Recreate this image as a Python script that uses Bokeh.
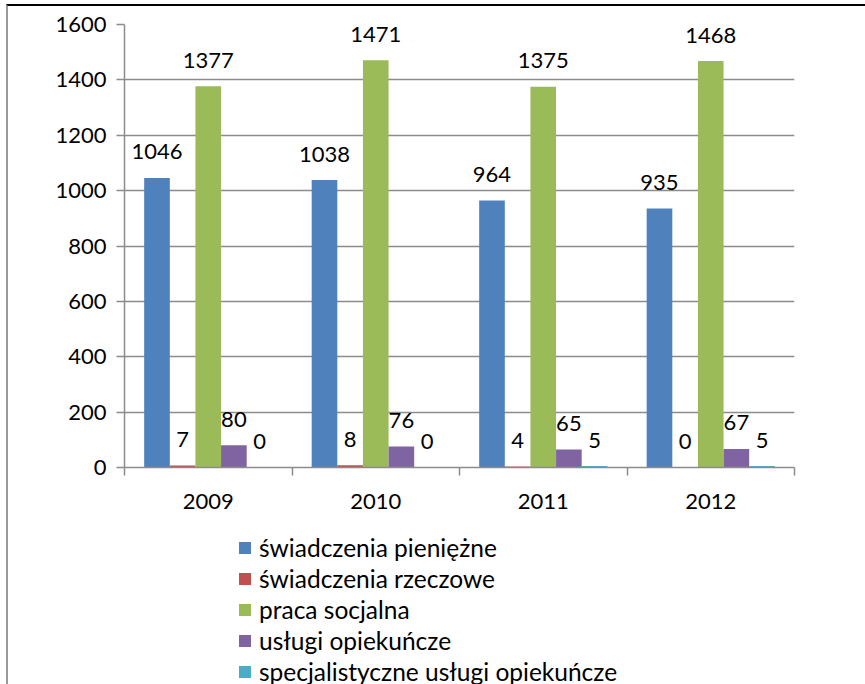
from bokeh.plotting import figure
from bokeh.layouts import column
from bokeh.models import (Range1d, FixedTicker, Legend, LegendItem, ColumnDataSource)
from bokeh.core.properties import value
from bokeh.embed import file_html
from bokeh.resources import INLINE

years = ["2009", "2010", "2011", "2012"]
series_names = [
    "świadczenia pieniężne",
    "świadczenia rzeczowe",
    "praca socjalna",
    "usługi opiekuńcze",
    "specjalistyczne usługi opiekuńcze",
]
swiadczenia_pieniezne = [1046, 1038, 964, 935]
swiadczenia_rzeczowe = [7, 8, 4, 0]
praca_socjalna = [1377, 1471, 1375, 1468]
uslugi_opiekuncze = [80, 76, 65, 67]
specjalistyczne_uslugi = [0, 0, 5, 5]
y_ticks = [0, 200, 400, 600, 800, 1000, 1200, 1400, 1600]
colors = ["#4F81BD", "#C0504D", "#9BBB59", "#8064A2", "#4BACC6"]

all_series = [swiadczenia_pieniezne, swiadczenia_rzeczowe, praca_socjalna,
              uslugi_opiekuncze, specjalistyczne_uslugi]

FONT = "Lato"
FS = "22px"
GRID = "#8c8c8c"
W = 857

p = figure(width=W, height=520, output_backend="svg", toolbar_location=None,
           x_range=Range1d(0, 4), y_range=Range1d(0, 1600),
           min_border_left=116, min_border_right=71, min_border_top=18,
           min_border_bottom=59)
p.outline_line_color = None
p.background_fill_color = "white"
p.border_fill_color = "white"

# legend-only figure underneath (its glyphs fall below its own y range)
p2 = figure(width=W, height=158, output_backend="svg", toolbar_location=None,
            x_range=Range1d(0, 4), y_range=Range1d(100000, 100001),
            x_axis_location=None, y_axis_location=None,
            min_border_left=0, min_border_right=0, min_border_top=0,
            min_border_bottom=0)
p2.outline_line_color = None
p2.grid.visible = False
p2.border_fill_color = "white"

bw = 0.153
items = []
for k, (name, vals, col) in enumerate(zip(series_names, all_series, colors)):
    xs = [i + 0.5 + (k - 2) * bw for i in range(len(years))]
    src = ColumnDataSource(dict(x=xs, top=vals, lab=[str(v) for v in vals]))
    p.vbar(x="x", top="top", width=bw, source=src, fill_color=col, line_color=None)
    p.text(x="x", y="top", text="lab", source=src, text_align="center",
           text_baseline="alphabetic", y_offset=-26, text_font=value(FONT),
           text_font_size=FS, text_color="black")
    r2 = p2.vbar(x="x", top="top", width=bw, source=src, fill_color=col, line_color=None)
    items.append(LegendItem(label=name, renderers=[r2]))

# y axis
p.yaxis.ticker = FixedTicker(ticks=y_ticks)
p.yaxis.axis_line_color = GRID
p.yaxis.axis_line_width = 1.5
p.yaxis.major_tick_line_color = GRID
p.yaxis.major_tick_line_width = 1.5
p.yaxis.major_tick_out = 8
p.yaxis.major_tick_in = 0
p.yaxis.minor_tick_line_color = None
p.yaxis.major_label_text_font = FONT
p.yaxis.major_label_text_font_size = FS
p.yaxis.major_label_text_color = "black"
p.yaxis.major_label_standoff = 10

# x axis
centers = [i + 0.5 for i in range(len(years))]
p.xaxis.ticker = FixedTicker(ticks=centers, minor_ticks=list(range(len(years) + 1)))
p.xaxis.major_label_overrides = {c: y for c, y in zip(centers, years)}
p.xaxis.axis_line_color = GRID
p.xaxis.axis_line_width = 1.5
p.xaxis.major_tick_line_color = None
p.xaxis.major_tick_out = 0
p.xaxis.minor_tick_line_color = GRID
p.xaxis.minor_tick_line_width = 1.5
p.xaxis.minor_tick_out = 8
p.xaxis.minor_tick_in = 0
p.xaxis.major_label_text_font = FONT
p.xaxis.major_label_text_font_size = FS
p.xaxis.major_label_text_color = "black"
p.xaxis.major_label_standoff = 18

p.xgrid.visible = False
p.ygrid.ticker = FixedTicker(ticks=y_ticks)
p.ygrid.grid_line_color = GRID
p.ygrid.grid_line_width = 1.5

legend = Legend(items=items, location=(113, -3), orientation="vertical",
                glyph_width=15, glyph_height=15, label_standoff=7,
                label_height=31, spacing=0, padding=0, margin=0,
                border_line_color=None, background_fill_alpha=0,
                label_text_font=FONT, label_text_font_size="24.5px",
                label_text_color="black")
p2.add_layout(legend)

layout = column(p, p2, spacing=0,
                styles={"border-top": "2px solid #000000",
                        "border-left": "2px solid #9a9a9a",
                        "margin-top": "4px", "margin-left": "6px"})

open("out.html", "w").write(file_html(layout, INLINE))
